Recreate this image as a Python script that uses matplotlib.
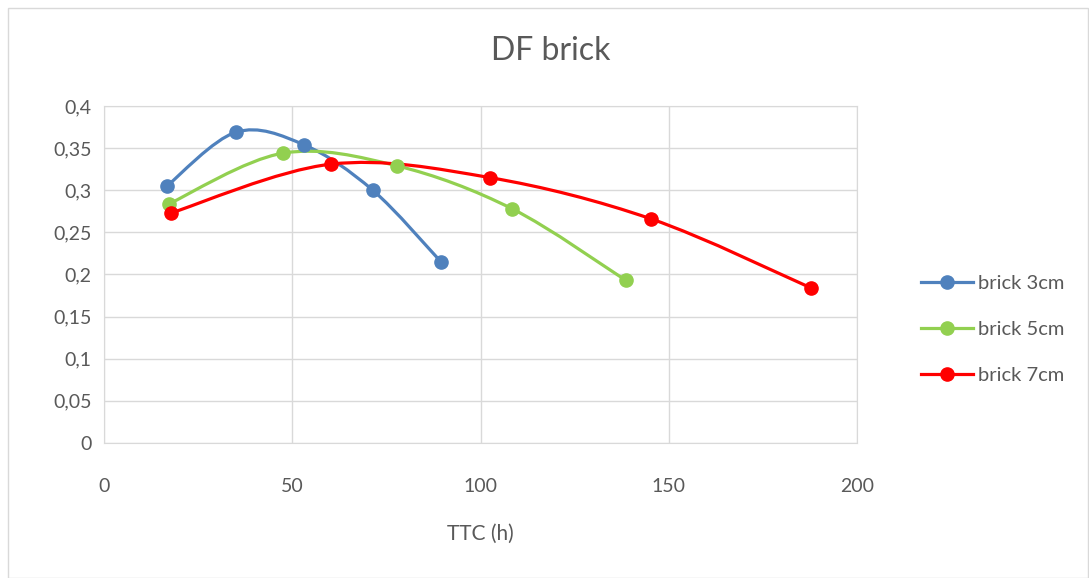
import numpy as np
import matplotlib.pyplot as plt
from matplotlib.path import Path
from matplotlib.patches import PathPatch, Rectangle
from matplotlib.lines import Line2D

plt.rcParams['font.family'] = ['Lato', 'DejaVu Sans']

# data
ttc_3cm = [16.7, 35.1, 53.1, 71.4, 89.5]
df_3cm = [0.305, 0.369, 0.354, 0.300, 0.215]
ttc_5cm = [17.3, 47.5, 77.8, 108.4, 138.6]
df_5cm = [0.284, 0.344, 0.329, 0.278, 0.193]
ttc_7cm = [17.8, 60.3, 102.5, 145.3, 187.8]
df_7cm = [0.273, 0.331, 0.315, 0.266, 0.184]

labels = ["brick 3cm", "brick 5cm", "brick 7cm"]
colors = ["#4F81BD", "#92D050", "#FF0000"]
grey = "#595959"


def smooth_path(x, y):
    # excel style smoothed line: catmull-rom as cubic bezier segments
    p = np.column_stack([x, y])
    n = len(p)
    verts = [p[0]]
    codes = [Path.MOVETO]
    for i in range(n - 1):
        p0 = p[i - 1] if i > 0 else p[i]
        p1 = p[i]
        p2 = p[i + 1]
        p3 = p[i + 2] if i + 2 < n else p[i + 1]
        c1 = p1 + (p2 - p0) / 6
        c2 = p2 - (p3 - p1) / 6
        verts += [c1, c2, p2]
        codes += [Path.CURVE4] * 3
    return Path(verts, codes)


fig = plt.figure(figsize=(10.89, 5.78), dpi=100)
ax = fig.add_axes([0.0955, 0.2336, 0.6915, 0.5830])

fig.patches.append(Rectangle((0.007, 0.0), 0.992, 0.986, transform=fig.transFigure,
                             fill=False, edgecolor="#D9D9D9", linewidth=1))

series = [(ttc_3cm, df_3cm), (ttc_5cm, df_5cm), (ttc_7cm, df_7cm)]
handles = []
for (x, y), c, lab in zip(series, colors, labels):
    ax.add_patch(PathPatch(smooth_path(x, y), fill=False, edgecolor=c,
                           linewidth=2.3, capstyle='round', zorder=3))
    ax.plot(x, y, linestyle='none', marker='o', markersize=9.5, color=c, zorder=4)
    handles.append(Line2D([], [], color=c, linewidth=2.3, marker='o', markersize=9.5))

ax.set_xlim(0, 200)
ax.set_ylim(0, 0.4)
ax.set_xticks([0, 50, 100, 150, 200])
ax.set_yticks(np.arange(0, 0.401, 0.05))
ax.set_yticklabels(["0", "0,05", "0,1", "0,15", "0,2", "0,25", "0,3", "0,35", "0,4"])
ax.grid(True, color="#D9D9D9", linewidth=1)
ax.set_axisbelow(True)
for s in ax.spines.values():
    s.set_color("#D9D9D9")
ax.tick_params(length=0, labelsize=14, labelcolor=grey, pad=9)
ax.tick_params(axis='x', pad=25)

ax.set_xlabel("TTC (h)", fontsize=15, color=grey, labelpad=21)
fig.text(0.506, 0.912, "DF brick", ha='center', va='center', fontsize=23, color=grey)

fig.legend(handles, labels, loc='center left', bbox_to_anchor=(0.829, 0.43),
           frameon=False, fontsize=14.5, labelcolor=grey, handlelength=2.6,
           handletextpad=0.25, labelspacing=1.45)

fig.savefig("out.png", dpi=100)
